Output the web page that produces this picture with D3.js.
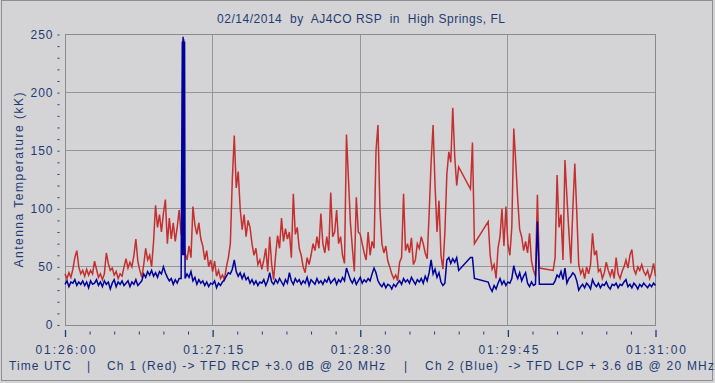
<!DOCTYPE html>
<html><head><meta charset="utf-8">
<script src="https://cdn.jsdelivr.net/npm/d3@7"></script>
<style>
body{margin:0;background:#d4d4d6;}
svg{display:block;}
text{font-family:"Liberation Sans",Arial,sans-serif;fill:#1f3b73;}
</style>
</head><body><svg id="c" width="715" height="383"></svg>
<script>
const titleText = "02/14/2014  by  AJ4CO RSP  in  High Springs, FL";
const yTitleText = "Antenna Temperature (kK)";
const xTickSec = [0, 75, 150, 225, 300];
const xTickLabels = ["01:26:00", "01:27:15", "01:28:30", "01:29:45", "01:31:00"];
const yTickValues = [0, 50, 100, 150, 200, 250];
const legendParts = ["Time UTC", "|", "Ch 1 (Red) -> TFD RCP +3.0 dB @ 20 MHz", "|", "Ch 2 (Blue)  -> TFD LCP + 3.6 dB @ 20 MHz"];

// one sample per second from 01:26:00 (null = no sample, plotter joins across)
const red = [
44,40,45,41,48,58,64,50,44,47,
42,48,43,47,44,55,48,41,44,39,
44,62,53,47,49,43,46,40,44,42,
50,57,49,54,50,60,74,55,47,41,
52,66,56,60,50,72,103,84,95,80,
96,108,70,92,74,88,72,84,99,78,
75,62,56,68,58,102,86,78,88,74,
68,56,64,50,56,46,55,42,47,40,
43,39,50,58,70,125,163,118,132,100,
82,95,76,90,84,70,60,66,52,56,
48,56,66,46,76,52,39,60,77,66,
92,72,83,74,80,58,113,78,84,66,
60,50,45,58,52,60,70,64,76,66,
96,70,62,76,64,114,76,80,99,70,
76,60,53,164,126,88,66,46,110,80,
78,70,62,56,80,60,72,66,150,172,
100,70,62,68,55,50,44,40,43,38,
54,58,113,64,70,62,75,52,56,70,
66,76,70,62,57,96,140,172,120,80,
107,60,48,80,130,149,140,187,145,120,
136,null,null,null,null,null,117,157,70,null,
null,null,null,null,null,89,60,48,52,40,
66,76,100,68,102,70,60,84,169,140,
108,82,76,64,72,62,79,55,47,42,
112,49,null,null,null,null,null,null,47,58,
129,84,95,56,142,110,80,53,100,139,
97,52,44,48,40,50,44,52,79,60,
64,46,48,40,45,54,47,42,48,40,
58,44,40,46,50,56,49,60,65,48,
44,50,47,52,46,43,47,40,45,53,
42
];
const blue = [
35,38,33,37,36,39,34,37,35,38,
34,37,32,38,35,36,39,34,37,33,
38,35,37,31,36,39,33,37,35,38,
34,36,38,33,37,35,39,34,36,38,
44,41,46,43,47,42,45,41,46,44,
50,45,41,38,40,35,39,36,40,40,
248,40,44,41,46,38,41,35,39,36,
38,34,37,33,36,35,38,32,36,34,
37,39,42,45,44,48,56,46,42,45,
40,44,39,41,36,39,35,38,34,37,
36,39,34,38,45,37,35,39,36,40,
37,34,39,36,45,38,35,40,37,39,
35,38,36,41,34,39,37,35,40,36,
38,35,39,37,41,36,38,40,35,39,
37,41,38,49,44,39,36,40,35,38,
41,36,39,37,40,38,44,49,45,38,
35,33,36,32,35,34,31,35,33,36,
38,35,40,37,39,36,41,38,35,39,
37,40,36,42,38,45,56,44,48,41,
45,37,34,36,56,58,53,57,54,58,
47,null,null,null,null,null,58,58,40,null,
null,null,null,null,null,37,32,29,34,31,
36,40,35,38,34,37,36,40,51,44,
40,45,38,42,45,36,33,37,34,35,
89,35,null,null,null,null,null,null,35,38,
43,41,46,39,49,36,40,42,45,43,
38,30,33,35,32,36,34,31,39,35,
33,36,32,35,34,37,33,31,35,34,
36,32,35,34,37,39,33,35,32,36,
34,31,35,33,36,34,32,35,33,36,
34
];
// extra Ch 2 samples inside the burst at 01:27:00
const spikeSec = [59.6, 59.75, 59.9, 60.15, 60.3, 60.45, 60.6, 60.75];
const spikeBlue = [244, 60, 240, 70, 246, 60, 238, 244];

const svg = d3.select("#c");
const xs = d3.scaleLinear().domain([0, 300]).range([65, 655.5]);
const ys = d3.scaleLinear().domain([0, 250]).range([325, 34.5]);

// outer frame
svg.append("rect").attr("x", 1.5).attr("y", 0.5).attr("width", 711).attr("height", 380)
  .attr("fill", "#d4d4d6").attr("stroke", "#8e8e8e");

// grid
const grid = svg.append("g").attr("stroke", "#969696").attr("shape-rendering", "crispEdges");
grid.selectAll(".hy").data(yTickValues.filter(v => v > 0 && v < 250)).join("line")
  .attr("x1", xs(0)).attr("x2", xs(300)).attr("y1", d => ys(d)).attr("y2", d => ys(d));
grid.selectAll(".vx").data(xTickSec.filter(v => v > 0 && v < 300)).join("line")
  .attr("y1", ys(0)).attr("y2", ys(250)).attr("x1", d => xs(d)).attr("x2", d => xs(d));

// plot border
svg.append("rect").attr("x", xs(0)).attr("y", ys(250)).attr("width", xs(300) - xs(0)).attr("height", ys(0) - ys(250))
  .attr("fill", "none").attr("stroke", "#8a8a8a").attr("shape-rendering", "crispEdges");

// series
const redPts = red.map((v, i) => [i, v]).filter(d => d[1] != null);
const bluePts = blue.map((v, i) => [i, v]).filter(d => d[1] != null)
  .concat(spikeSec.map((t, i) => [t, spikeBlue[i]]))
  .sort((a, b) => a[0] - b[0]);
const line = d3.line().x(d => xs(d[0])).y(d => ys(d[1]));
svg.append("path").attr("d", line(redPts)).attr("fill", "none").attr("stroke", "#c42f30").attr("stroke-width", 1.5);
svg.append("path").attr("d", line(bluePts)).attr("fill", "none").attr("stroke", "#00009a").attr("stroke-width", 1.5);

// y axis
const yAxis = d3.axisLeft(ys).tickValues(d3.range(0, 251, 10)).tickSize(2).tickPadding(4)
  .tickFormat(d => yTickValues.includes(d) ? d : "");
const gy = svg.append("g").attr("transform", "translate(59.5,0)").call(yAxis);
gy.select(".domain").remove();
gy.selectAll("line").attr("stroke", "#1f3b73");
gy.selectAll("text").style("font-size", "12px").attr("letter-spacing", "1px").attr("fill", "#1f3b73");

// x axis major
const xAxis = d3.axisBottom(xs).tickValues(xTickSec).tickSize(7).tickPadding(8)
  .tickFormat((d, i) => xTickLabels[i]);
const gx = svg.append("g").attr("transform", "translate(0,330)").call(xAxis);
gx.select(".domain").remove();
gx.selectAll("line").attr("stroke", "#1f3b73").attr("stroke-width", 1.3);
gx.selectAll("text").style("font-size", "12px").attr("textLength", 60).attr("lengthAdjust", "spacing").attr("fill", "#1f3b73");
// x axis minor
const minor = d3.range(0, 301, 12.5).filter(v => !xTickSec.includes(v));
const xMinor = d3.axisBottom(xs).tickValues(minor).tickSize(3).tickFormat("");
const gxm = svg.append("g").attr("transform", "translate(0,331.5)").call(xMinor);
gxm.select(".domain").remove();
gxm.selectAll("line").attr("stroke", "#1f3b73");

// title
svg.append("text").attr("x", 361).attr("y", 23).attr("text-anchor", "middle")
  .style("font-size", "12px").style("white-space", "pre").attr("textLength", 288).attr("lengthAdjust", "spacing")
  .text(titleText);

// y title
svg.append("text").attr("transform", "translate(22.5,180) rotate(-90)").attr("text-anchor", "middle")
  .style("font-size", "12px").attr("textLength", 175).attr("lengthAdjust", "spacing").text(yTitleText);

// bottom legend
const legX = [9, 87, 107, 404, 425];
const legW = [62, null, 278, null, 289];
legendParts.forEach((s, i) => {
  const t = svg.append("text").attr("x", legX[i]).attr("y", 369.5)
    .style("font-size", "12px").style("white-space", "pre").text(s);
  if (legW[i]) t.attr("textLength", legW[i]).attr("lengthAdjust", "spacing");
});
</script>
</body></html>
